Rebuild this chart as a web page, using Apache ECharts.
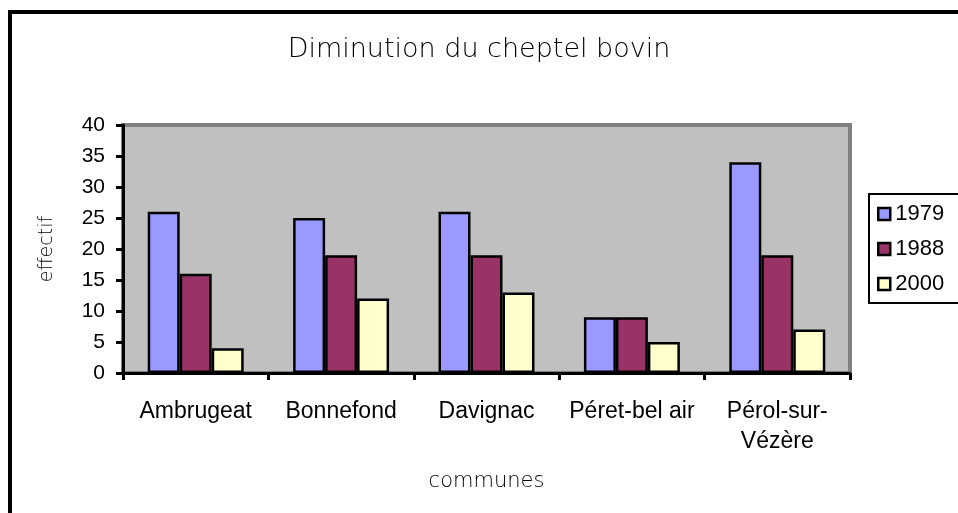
<!DOCTYPE html>
<html>
<head>
<meta charset="utf-8">
<script src="https://cdn.jsdelivr.net/npm/echarts@6/dist/echarts.min.js"></script>
<style>
  html, body { margin: 0; padding: 0; background: #fff; }
  #chart { width: 958px; height: 513px; }
</style>
</head>
<body>
<div id="chart"></div>
<script>
// données
var communes = ['Ambrugeat', 'Bonnefond', 'Davignac', 'Péret-bel air', 'Pérol-sur-\nVézère'];
var annees = ['1979', '1988', '2000'];
var v1979 = [26, 25, 26, 9, 34];
var v1988 = [16, 19, 19, 9, 19];
var v2000 = [4, 12, 13, 5, 7];
var couleurs = ['#9999FF', '#993366', '#FFFFCC'];

var chart = echarts.init(document.getElementById('chart'), null, { renderer: 'canvas' });

function serie(name, data, color) {
  return {
    name: name,
    type: 'bar',
    data: data,
    barGap: '0%',
    barCategoryGap: '34%',
    itemStyle: {
      color: color,
      borderColor: '#000',
      borderWidth: 2.5
    }
  };
}

var option = {
  animation: false,
  backgroundColor: '#fff',
  title: {
    text: 'Diminution du cheptel bovin',
    left: 'center',
    top: 31,
    textStyle: {
      fontFamily: 'DejaVu Sans',
      fontWeight: 'lighter',
      fontSize: 27,
      color: '#000'
    }
  },
  legend: {
    orient: 'vertical',
    left: 869,
    top: 194,
    data: annees,
    icon: 'rect',
    itemWidth: 12,
    itemHeight: 12,
    itemGap: 13,
    borderColor: '#000',
    borderWidth: 2,
    padding: [9, 30, 8, 8],
    itemStyle: { borderColor: '#000', borderWidth: 2.5 },
    textStyle: {
      fontFamily: 'Liberation Sans',
      fontSize: 22,
      color: '#000'
    }
  },
  grid: {
    left: 123,
    right: 108,
    top: 125,
    bottom: 140,
    show: true,
    backgroundColor: '#C0C0C0',
    borderColor: '#808080',
    borderWidth: 4
  },
  xAxis: {
    type: 'category',
    data: communes,
    name: 'communes',
    nameLocation: 'middle',
    nameGap: 98,
    nameTextStyle: {
      fontFamily: 'DejaVu Sans',
      fontWeight: 'lighter',
      fontSize: 21,
      color: '#000'
    },
    axisLine: { show: true, lineStyle: { color: '#000', width: 3 } },
    axisTick: { show: true, interval: 0, alignWithLabel: false, length: 7, lineStyle: { color: '#000', width: 3 } },
    axisLabel: {
      interval: 0,
      margin: 24,
      fontFamily: 'Liberation Sans',
      fontSize: 23,
      lineHeight: 30,
      color: '#000'
    }
  },
  yAxis: {
    type: 'value',
    min: 0,
    max: 40,
    interval: 5,
    name: 'effectif',
    nameLocation: 'middle',
    nameRotate: 90,
    nameGap: 66,
    nameTextStyle: {
      fontFamily: 'DejaVu Sans',
      fontWeight: 'lighter',
      fontSize: 19,
      color: '#000'
    },
    splitLine: { show: false },
    axisLine: { show: true, lineStyle: { color: '#000', width: 3 } },
    axisTick: { show: true, length: 7, lineStyle: { color: '#000', width: 3 } },
    axisLabel: {
      margin: 18,
      fontFamily: 'Liberation Sans',
      fontSize: 21,
      color: '#000'
    }
  },
  graphic: [{
    type: 'rect',
    shape: { x: 10, y: 12, width: 1000, height: 1000 },
    style: { fill: 'none', stroke: '#000', lineWidth: 4 },
    silent: true
  }],
  series: [
    serie(annees[0], v1979, couleurs[0]),
    serie(annees[1], v1988, couleurs[1]),
    serie(annees[2], v2000, couleurs[2])
  ]
};

chart.setOption(option);
</script>
</body>
</html>
